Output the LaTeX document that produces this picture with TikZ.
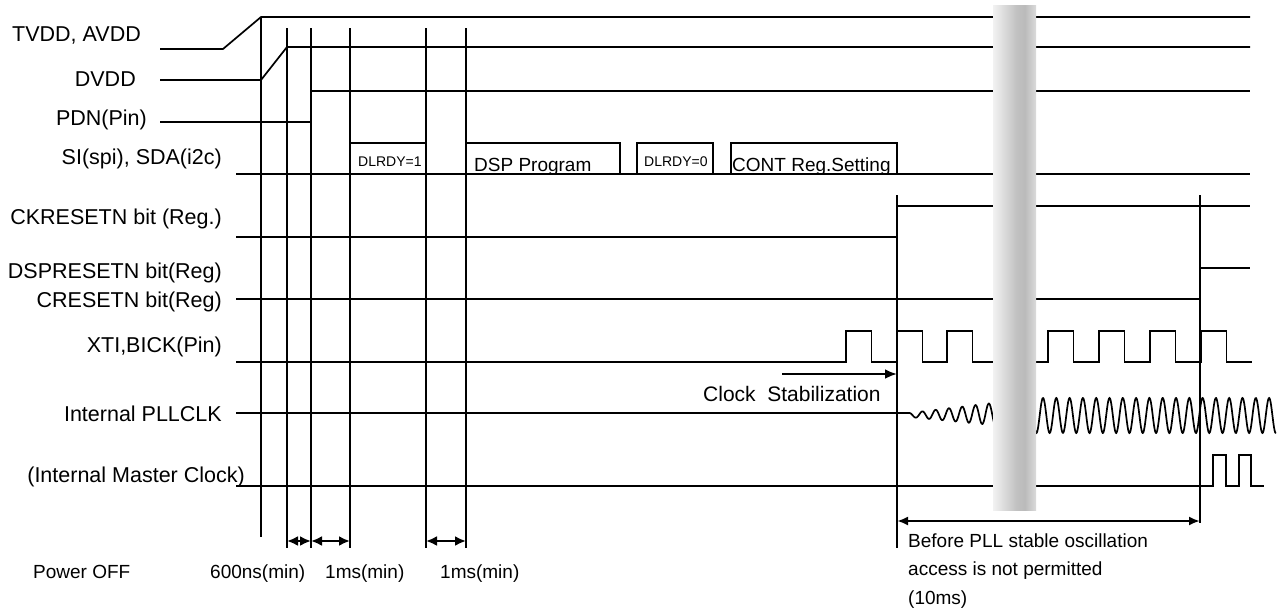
\documentclass[tikz,border=0pt]{standalone}
\usepackage{fontspec}
\setmainfont{Liberation Sans}
\usetikzlibrary{arrows.meta}
\pgfdeclarehorizontalshading{cylbar}{100bp}{color(0bp)=(black!5); color(25bp)=(black!5); color(52bp)=(black!24); color(62bp)=(black!27); color(75bp)=(black!14); color(100bp)=(black!14)}
\begin{document}
\begin{tikzpicture}[x=1pt,y=-1pt,
  sig/.style={line width=1.7pt, line join=miter},
  lbl/.style={font=\fontsize{21.5}{24}\selectfont, inner sep=0, anchor=base east},
  note/.style={font=\fontsize{19}{22}\selectfont, inner sep=0, anchor=base west},
  bignote/.style={font=\fontsize{21}{24}\selectfont, inner sep=0, anchor=base west},
  small/.style={font=\fontsize{14}{16}\selectfont, inner sep=0, anchor=base west},
  dimarrow/.style={line width=2.6pt, {Latex[length=11pt,width=10pt]}-{Latex[length=11pt,width=10pt]}},
  longarrow/.style={line width=2.4pt, {Latex[length=11pt,width=9pt]}-{Latex[length=11pt,width=9pt]}},
  onearrow/.style={line width=2.8pt, -{Latex[length=12pt,width=10pt]}}]
\useasboundingbox (0,0) rectangle (1283,608);

% labels
\node[lbl] (tv) at (141,41.7) {TVDD, AVDD};
\node[lbl] (dv) at (136,86) {DVDD};
\node[lbl] (pdn) at (147,125) {PDN(Pin)};
\node[lbl] (si) at (222,164) {SI(spi), SDA(i2c)};
\node[lbl] (ck) at (222,224) {CKRESETN bit (Reg.)};
\node[lbl] (dsp) at (222,278) {DSPRESETN bit(Reg)};
\node[lbl] (cr) at (222,307) {CRESETN bit(Reg)};
\node[lbl] (xti) at (222,352) {XTI,BICK(Pin)};
\node[lbl] (pll) at (222,421) {Internal PLLCLK};
\node[lbl] (mck) at (245,482) {(Internal Master Clock)};

% supplies and pins
\draw[sig] (160,49) -- (223,49) -- (261,17) -- (1250,17);
\draw[sig] (160,80) -- (261,80) -- (287,47) -- (1250,47);
\draw[sig] (160,122) -- (311,122) -- (311,91) -- (1250,91);
\draw[sig] (236,174) -- (1250,174);

% serial boxes
\draw[sig] (350,143) rectangle (426,174);
\node[small] (d1) at (358,166) {DLRDY=1};
\draw[sig] (466,143) rectangle (620,174);
\node[note] (prog) at (474,171) {DSP Program};
\draw[sig] (637,143) rectangle (713,174);
\node[small] (d0) at (644,166) {DLRDY=0};
\draw[sig] (731,143) rectangle (897,174);
\node[note] (cont) at (732,171) {CONT Reg.Setting};

% reset bits
\draw[sig] (236,237) -- (897,237);
\draw[sig] (897,206) -- (1250,206);
\draw[sig] (1200,268) -- (1250,268);
\draw[sig] (236,299) -- (1200,299);
\draw[sig] (897,195) -- (897,548);
\draw[sig] (1200,195) -- (1200,523);

% XTI clock
\draw[sig] (236,362) -- (846,362)
  \foreach \r in {846,897,947,998,1048,1099,1150,1201} {
    -- (\r,362) -- (\r,331) -- ({\r+25.5},331) -- ({\r+25.5},362)
  } -- (1252,362);

% PLL clock
\draw[sig] (236,413) -- (909,413);
\draw[sig] plot[domain=0:87, samples=180] ({909+\x}, {415-\x/84 - (2+9*\x/84)*cos(27.0677*\x)});
\draw[sig] plot[domain=-10:233, samples=500] ({1043+\x}, {415.5-17.5*cos(27.0677*\x)});

% master clock
\draw[sig] (236,486) -- (1213,486) -- (1213,455) -- (1226,455) -- (1226,486)
  -- (1239,486) -- (1239,455) -- (1251,455) -- (1251,486) -- (1264,486);

% timing verticals
\draw[sig] (261,17) -- (261,537);
\foreach \vx in {287,311,350,426,466} \draw[sig] (\vx,28) -- (\vx,548);

% dimension arrows
\coordinate (a1) at (287,541); \coordinate (a2) at (311,541);
\coordinate (a3) at (350,541); \coordinate (a4) at (426,541);
\coordinate (a5) at (466,541);
\draw[dimarrow] (a1) -- (a2);
\draw[dimarrow] (a2) -- (a3);
\draw[dimarrow] (a4) -- (a5);
\coordinate (b1) at (897,521); \coordinate (b2) at (1200,521);
\draw[longarrow] (b1) -- (b2);
\coordinate (c1) at (782,374); \coordinate (c2) at (897,374);
\draw[onearrow] (c1) -- (c2);

% annotations
\node[bignote] (cs) at (703,401.5) {Clock\ \ Stabilization};
\node[note] (poff) at (33,578) {Power OFF};
\node[note] (t600) at (210,578) {600ns(min)};
\node[note] (t1a) at (325,578) {1ms(min)};
\node[note] (t1b) at (440,578) {1ms(min)};
\node[note] (pl1) at (908,547) {Before PLL stable oscillation};
\node[note] (pl2) at (908,575) {access is not permitted};
\node[note] (pl3) at (908,604) {(10ms)};

% time-break bar
\fill[shading=cylbar] (993,5) rectangle (1036,510);
\end{tikzpicture}
\end{document}
